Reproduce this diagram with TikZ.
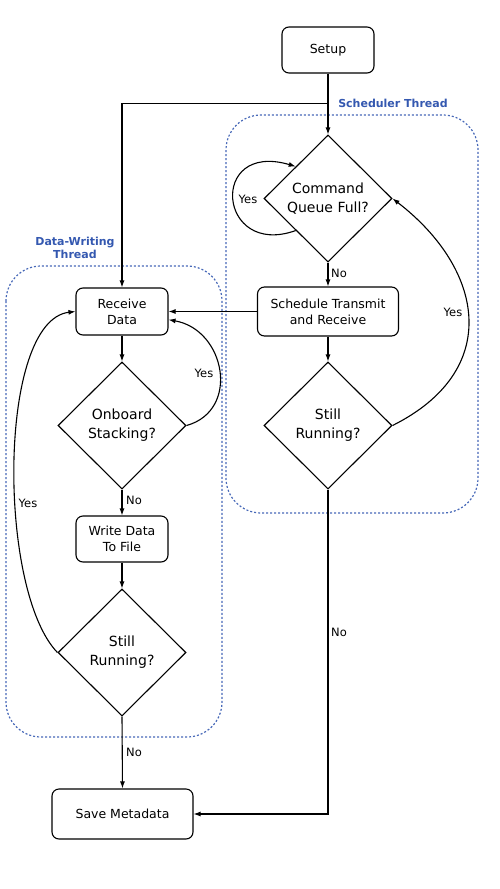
\documentclass[tikz,border=0pt]{standalone}
\usepackage{fontspec}
\setmainfont{DejaVu Sans}
\usepackage{tikz}
\usetikzlibrary{arrows.meta,shapes.geometric}
\definecolor{threadblue}{RGB}{52,88,176}
\tikzset{
    box/.style={draw,rounded corners=7pt,line width=1.1pt,align=center,inner sep=0pt,
        font=\fontsize{12.5}{16}\selectfont},
    decision/.style={draw,diamond,aspect=1,line width=1.1pt,align=center,inner sep=0pt,
        minimum width=128pt,minimum height=127pt,font=\fontsize{14}{19}\selectfont},
    thread/.style={draw=threadblue!90!white,line width=1.2pt,dash pattern=on 2pt off 2pt,rounded corners=35pt},
    threadlabel/.style={text=threadblue,font=\bfseries\fontsize{11}{13}\selectfont,align=center},
    lbl/.style={font=\fontsize{11.5}{13}\selectfont}
}
\begin{document}
\begin{tikzpicture}[x=1pt,y=-1pt]
\useasboundingbox (0,0) rectangle (500,889);
% thread frames
\draw[thread] (226,115) rectangle (478,513);
\draw[thread] (6,266) rectangle (222,737);
\node[threadlabel] (schedlbl) at (393,103) {Scheduler Thread};
\node[threadlabel] (datalbl) at (75,248) {Data-Writing\\Thread};
% steps
\node[box,minimum width=92pt,minimum height=46pt] (setup) at (328,50) {Setup};
\node[decision] (queue) at (328,198.5) {Command\\Queue Full?};
\node[box,minimum width=141pt,minimum height=49pt] (sched) at (328,311.5) {Schedule Transmit\\and Receive};
\node[decision] (run2) at (328,425.5) {Still\\Running?};
\node[box,minimum width=92pt,minimum height=47pt] (recv) at (122,311.5) {Receive\\Data};
\node[decision] (stack) at (122,425.5) {Onboard\\Stacking?};
\node[box,minimum width=92pt,minimum height=46pt] (write) at (122,539) {Write Data\\To File};
\node[decision] (run3) at (122,652.5) {Still\\Running?};
\node[box,minimum width=141pt,minimum height=50pt] (save) at (122.5,814) {Save Metadata};
% labels
\node[lbl] (yq) at (248,199) {Yes};
\node[lbl] (y2) at (453,312) {Yes};
\node[lbl] (ys) at (204,373) {Yes};
\node[lbl] (y3) at (28,503) {Yes};
\node[lbl] (nq) at (339,273) {No};
\node[lbl] (ns) at (134,500) {No};
\node[lbl] (n2) at (339,632) {No};
\node[lbl] (n3) at (134,752) {No};
\begin{scope}[>={Latex[length=7pt,width=5pt]},line width=1.1pt]
    \path (setup.south) ++(0,30) coordinate (fork);
    \draw[->] (setup.south) -- (queue.north);
    \draw[->] (fork) -| (recv.north);
    \draw[->] (queue.south) -- (sched.north);
    \draw[->] (sched.south) -- (run2.north);
    \draw[->] (sched.west) -- (recv.east);
    \draw[->] (recv.south) -- (stack.north);
    \draw[->] (stack.south) -- (write.north);
    \draw[->] (write.south) -- (run3.north);
    \draw[->] (run3.south) -- (save.north);
    \draw[->] (run2.south) |- (save.east);
    \draw[->] (queue.south west) .. controls +(-78,28) and +(-88,-26) .. (queue.north west);
    \draw[->] (run2.east) .. controls +(110,-55) and +(92,71) .. (queue.east);
    \draw[->] (stack.east) .. controls +(54,-15) and +(57,10) .. (recv.-10);
    \draw[->] (run3.west) .. controls +(-60,-62) and +(-78,9) .. (recv.west);
\end{scope}
\end{tikzpicture}
\end{document}
